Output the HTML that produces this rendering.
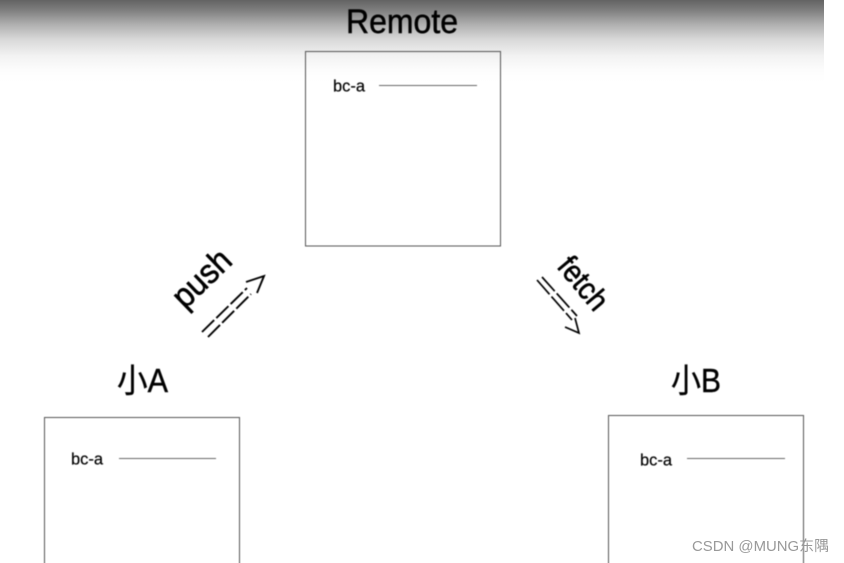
<!DOCTYPE html>
<html>
<head>
<meta charset="utf-8">
<style>
html,body{margin:0;padding:0;background:#fff;width:844px;height:563px;overflow:hidden}
svg{display:block}
text{font-family:"Liberation Sans","Noto Sans CJK SC",sans-serif;fill:#000}
</style>
</head>
<body>
<svg width="844" height="563" viewBox="0 0 844 563" xmlns="http://www.w3.org/2000/svg">
<defs>
<linearGradient id="g" x1="0" y1="0" x2="0" y2="1">
<stop offset="0" stop-color="#636363"/>
<stop offset=".13" stop-color="#808080"/>
<stop offset=".3" stop-color="#b0b0b0"/>
<stop offset=".48" stop-color="#d8d8d8"/>
<stop offset=".68" stop-color="#f2f2f2"/>
<stop offset=".85" stop-color="#fcfcfc"/>
<stop offset="1" stop-color="#fff"/>
</linearGradient>
<filter id="b" x="-5%" y="-5%" width="110%" height="110%"><feGaussianBlur stdDeviation="0.4"/></filter>
</defs>
<rect x="0" y="0" width="824" height="82" fill="url(#g)"/>
<g filter="url(#b)">
<text x="346" y="33" font-size="34" textLength="112" lengthAdjust="spacingAndGlyphs" stroke="#000" stroke-width=".5">Remote</text>
<rect x="305.5" y="51.5" width="195" height="194.5" fill="none" stroke="#555" stroke-width="1"/>
<text x="333" y="91.5" font-size="16.5" textLength="32" lengthAdjust="spacingAndGlyphs" stroke="#000" stroke-width=".2">bc-a</text>
<line x1="379" y1="85.5" x2="477" y2="85.5" stroke="#666" stroke-width="1"/>

<text font-size="34" transform="translate(185,310) rotate(-44)" textLength="68" lengthAdjust="spacingAndGlyphs" stroke="#000" stroke-width=".6">push</text>
<g stroke="#000" stroke-width="1.9" fill="none">
<line x1="202" y1="332" x2="247" y2="288" stroke-dasharray="17 3"/>
<line x1="208" y1="337" x2="251" y2="294" stroke-dasharray="17 3"/>
<polyline points="246,282 264,276 257,293"/>
</g>

<text font-size="31" transform="translate(556,267) rotate(50)" textLength="60" lengthAdjust="spacingAndGlyphs" stroke="#000" stroke-width=".6">fetch</text>
<g stroke="#000" stroke-width="1.7" fill="none">
<line x1="537" y1="280" x2="572" y2="320" stroke-dasharray="19 3"/>
<line x1="542" y1="277" x2="577" y2="316" stroke-dasharray="19 3"/>
<polyline points="575,318 579,333 565,327"/>
</g>

<text x="117" y="392" font-size="33" textLength="51" lengthAdjust="spacingAndGlyphs" stroke="#000" stroke-width=".4">小A</text>
<rect x="44.5" y="417.5" width="195" height="160" fill="none" stroke="#555" stroke-width="1"/>
<text x="71" y="464.5" font-size="16.5" textLength="32" lengthAdjust="spacingAndGlyphs" stroke="#000" stroke-width=".2">bc-a</text>
<line x1="119" y1="458.5" x2="216" y2="458.5" stroke="#666" stroke-width="1"/>

<text x="671" y="392" font-size="33" textLength="50" lengthAdjust="spacingAndGlyphs" stroke="#000" stroke-width=".4">小B</text>
<rect x="608.5" y="415.5" width="195" height="160" fill="none" stroke="#555" stroke-width="1"/>
<text x="640" y="465.5" font-size="16.5" textLength="32" lengthAdjust="spacingAndGlyphs" stroke="#000" stroke-width=".2">bc-a</text>
<line x1="687" y1="458.5" x2="785" y2="458.5" stroke="#666" stroke-width="1"/>
</g>
<text x="692" y="551" font-size="14.5" style="fill:#999" textLength="137" lengthAdjust="spacingAndGlyphs">CSDN @MUNG东隅</text>
</svg>
</body>
</html>
